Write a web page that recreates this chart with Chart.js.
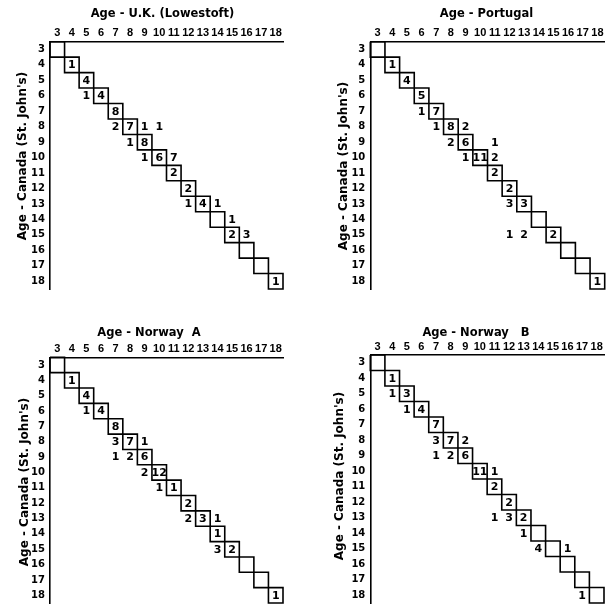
<!DOCTYPE html>
<html>
<head>
<meta charset="utf-8">
<script src="https://cdn.jsdelivr.net/npm/chart.js@4.4.1/dist/chart.umd.min.js"></script>
<style>
html,body{margin:0;padding:0;background:#fff;}
body{width:614px;height:614px;position:relative;overflow:hidden;}
.panel{position:absolute;}
</style>
</head>
<body>
<div class="panel" style="left:0;top:0;width:307px;height:300px"><canvas id="c1"></canvas></div>
<div class="panel" style="left:307px;top:0;width:307px;height:300px"><canvas id="c2"></canvas></div>
<div class="panel" style="left:0;top:300px;width:307px;height:314px"><canvas id="c3"></canvas></div>
<div class="panel" style="left:307px;top:300px;width:307px;height:314px"><canvas id="c4"></canvas></div>
<script>
// ---- data ----
const ages = [3,4,5,6,7,8,9,10,11,12,13,14,15,16,17,18];
const yTitle = "Age - Canada (St. John's)";

// U.K. (Lowestoft): row = Canada age, col = U.K. age, n = number of fish
const ukRow = [4,5,6,6,7,8,8,8,8,9,9,10,10,10,11,12,13,13,13,14,15,15,18];
const ukCol = [4,5,5,6,7,7,8,9,10,8,9,9,10,11,11,12,12,13,14,15,15,16,18];
const ukN   = [1,4,1,4,8,2,7,1,1,1,8,1,6,7,2,2,1,4,1,1,2,3,1];

// Portugal
const ptRow = [4,5,6,7,7,8,8,8,9,9,9,10,10,10,11,12,13,13,15,15,15,18];
const ptCol = [4,5,6,6,7,7,8,9,8,9,11,9,10,11,11,12,12,13,12,13,15,18];
const ptN   = [1,4,5,1,7,1,8,2,2,6,1,1,11,2,2,2,3,3,1,2,2,1];

// Norway A
const naRow = [4,5,6,6,7,8,8,8,9,9,9,10,10,11,11,12,13,13,13,14,15,15,18];
const naCol = [4,5,5,6,7,7,8,9,7,8,9,9,10,10,11,12,12,13,14,14,14,15,18];
const naN   = [1,4,1,4,8,3,7,1,1,2,6,2,12,1,1,2,2,3,1,1,3,2,1];

// Norway B
const nbRow = [4,5,5,6,6,7,8,8,8,9,9,9,10,10,11,12,13,13,13,14,15,15,18];
const nbCol = [4,4,5,5,6,7,7,8,9,7,8,9,10,11,11,12,11,12,13,13,14,16,17];
const nbN   = [1,1,3,1,4,7,3,7,2,1,2,6,11,1,2,2,1,3,2,1,4,1,1];

// ---- plugins ----
const cellLabels = {
  id: 'cellLabels',
  afterDatasetsDraw(chart) {
    const ctx = chart.ctx;
    ctx.save();
    ctx.fillStyle = '#000';
    ctx.font = 'bold 11px "DejaVu Sans"';
    ctx.textAlign = 'center';
    ctx.textBaseline = 'middle';
    chart.data.datasets.forEach((ds, i) => {
      if (!ds.isCells) return;
      const meta = chart.getDatasetMeta(i);
      meta.data.forEach((pt, j) => {
        ctx.fillText(String(ds.data[j].n), pt.x, pt.y + 0.5);
      });
    });
    ctx.restore();
  }
};

const panelText = {
  id: 'panelText',
  afterDraw(chart, args, o) {
    const ctx = chart.ctx;
    ctx.save();
    ctx.fillStyle = '#000';
    ctx.textAlign = 'center';
    ctx.textBaseline = 'middle';
    ctx.font = 'bold 11.5px "DejaVu Sans"';
    ctx.fillText(o.title, o.tx, o.ty);
    ctx.translate(o.yx, o.yy);
    ctx.rotate(-Math.PI / 2);
    ctx.font = 'bold 12px "DejaVu Sans"';
    ctx.fillText(o.ytitle, 0, 0);
    ctx.restore();
  }
};

function staircase() {
  const pts = [];
  ages.forEach(a => {
    pts.push({x: a - 0.5, y: a - 0.5}, {x: a + 0.5, y: a - 0.5},
             {x: a + 0.5, y: a + 0.5}, {x: a - 0.5, y: a + 0.5},
             {x: a - 0.5, y: a - 0.5}, {x: a, y: null});
  });
  return pts;
}

function makeChart(id, rows, cols, counts, g) {
  const cells = rows.map((r, i) => ({x: cols[i], y: r, n: counts[i]}));
  const xFont = {family: '"Liberation Sans Narrow", "Liberation Sans", sans-serif', size: 11, weight: 'bold'};
  const yFont = {family: '"DejaVu Sans"', size: 10, weight: 'bold'};
  return new Chart(document.getElementById(id), {
    type: 'scatter',
    data: {
      datasets: [
        {
          type: 'line',
          data: staircase(),
          borderColor: '#000',
          borderWidth: 1.6,
          pointRadius: 0,
          spanGaps: false,
          fill: false,
          clip: false,
          tension: 0
        },
        {
          isCells: true,
          data: cells,
          pointRadius: 0,
          pointHoverRadius: 0,
          backgroundColor: 'rgba(0,0,0,0)',
          borderColor: 'rgba(0,0,0,0)'
        }
      ]
    },
    options: {
      responsive: true,
      maintainAspectRatio: false,
      animation: false,
      events: [],
      layout: {padding: {left: 0, top: 0, right: g.R, bottom: g.B}},
      plugins: {
        legend: {display: false},
        tooltip: {enabled: false},
        title: {display: false},
        panelText: {title: g.title, tx: g.tx, ty: g.ty, ytitle: yTitle, yx: g.yx, yy: g.yy}
      },
      scales: {
        x: {
          type: 'linear',
          position: 'top',
          min: 2.5, max: 18.5,
          afterBuildTicks: s => { s.ticks = ages.map(v => ({value: v})); },
          afterFit: s => { s.height = g.T; },
          grid: {display: false, drawTicks: false},
          border: {display: true, color: '#000', width: 1.6},
          ticks: {color: '#000', font: xFont, padding: g.xp, maxRotation: 0, autoSkip: false}
        },
        y: {
          type: 'linear',
          position: 'left',
          reverse: true,
          min: 2.5, max: 18.5,
          afterBuildTicks: s => { s.ticks = ages.map(v => ({value: v})); },
          afterFit: s => { s.width = g.L; },
          grid: {display: false, drawTicks: false},
          border: {display: true, color: '#000', width: 1.6},
          ticks: {color: '#000', font: yFont, padding: 5, autoSkip: false}
        }
      }
    },
    plugins: [cellLabels, panelText]
  });
}

makeChart('c1', ukRow, ukCol, ukN,
  {L: 50, T: 41.7, R: 24, B: 4, xp: 2, title: 'Age - U.K. (Lowestoft)', tx: 162.5, ty: 14, yx: 23, yy: 156});
makeChart('c2', ptRow, ptCol, ptN,
  {L: 63.3, T: 41.7, R: 9.3, B: 4, xp: 2, title: 'Age - Portugal', tx: 179.5, ty: 14, yx: 37, yy: 166});
makeChart('c3', naRow, naCol, naN,
  {L: 50, T: 57.3, R: 24, B: 6, xp: 2, title: 'Age - Norway  A', tx: 149, ty: 333 - 300, yx: 25, yy: 182});
makeChart('c4', nbRow, nbCol, nbN,
  {L: 63.3, T: 55, R: 10, B: 6, xp: 1, title: 'Age - Norway   B', tx: 169, ty: 333 - 300, yx: 33, yy: 176});
</script>
</body>
</html>
